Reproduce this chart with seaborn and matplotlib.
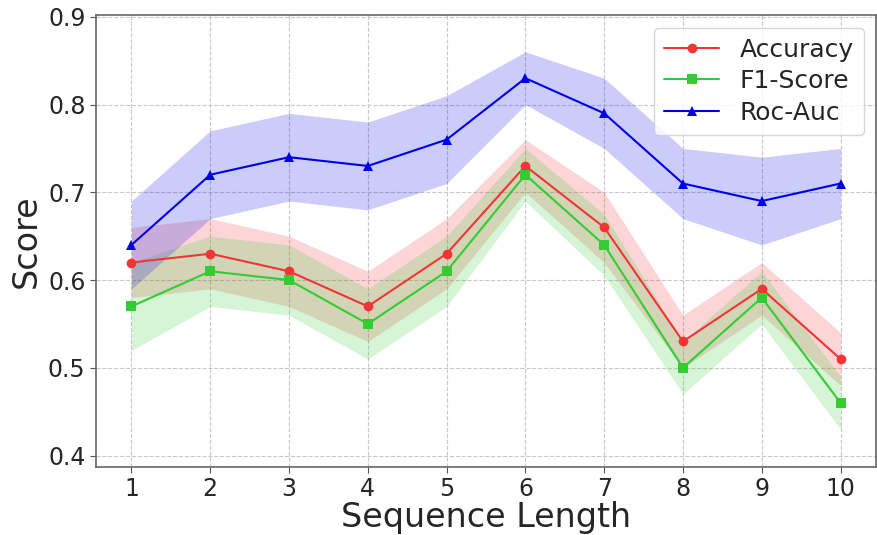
import numpy as np
import pandas as pd
import matplotlib
matplotlib.use("Agg")
import matplotlib.pyplot as plt
import seaborn as sns

seq_len = [1, 2, 3, 4, 5, 6, 7, 8, 9, 10]
accuracy = [0.62, 0.63, 0.61, 0.57, 0.63, 0.73, 0.66, 0.53, 0.59, 0.51]
acc_std = [0.04, 0.04, 0.04, 0.04, 0.04, 0.03, 0.04, 0.03, 0.03, 0.03]
f1_score = [0.57, 0.61, 0.60, 0.55, 0.61, 0.72, 0.64, 0.50, 0.58, 0.46]
f1_std = [0.05, 0.04, 0.04, 0.04, 0.04, 0.03, 0.035, 0.03, 0.03, 0.03]
roc_auc = [0.64, 0.72, 0.74, 0.73, 0.76, 0.83, 0.79, 0.71, 0.69, 0.71]
roc_std = [0.05, 0.05, 0.05, 0.05, 0.05, 0.03, 0.04, 0.04, 0.05, 0.04]

df = pd.DataFrame({
    "Sequence Length": seq_len * 3,
    "Score": accuracy + f1_score + roc_auc,
    "Metric": ["Accuracy"] * 10 + ["F1-Score"] * 10 + ["Roc-Auc"] * 10,
})

colors = {"Accuracy": "#f03535", "F1-Score": "#33cc33", "Roc-Auc": "#0000e6"}
markers = {"Accuracy": "o", "F1-Score": "s", "Roc-Auc": "^"}

sns.set_style("white")
fig = plt.figure(figsize=(8.77, 5.35), dpi=100)
ax = fig.add_axes([96 / 877, 1 - 467 / 535, 780 / 877, 452 / 535])

x = np.array(seq_len)
bands = [(accuracy, acc_std, "Accuracy"), (f1_score, f1_std, "F1-Score"), (roc_auc, roc_std, "Roc-Auc")]
for vals, std, name in bands:
    v = np.array(vals)
    s = np.array(std)
    ax.fill_between(x, v - s, v + s, color=colors[name], alpha=0.2, linewidth=0)

sns.lineplot(data=df, x="Sequence Length", y="Score", hue="Metric", style="Metric",
             palette=colors, markers=markers, dashes=False, markersize=7,
             markeredgewidth=0, linewidth=1.5, ax=ax)

ax.set_xticks(seq_len)
ax.set_yticks([0.4, 0.5, 0.6, 0.7, 0.8, 0.9])
ax.set_xlim(0.55, 10.45)
ax.set_ylim(0.387, 0.902)
ax.tick_params(axis="both", labelsize=17, length=4, color="#555555")
ax.tick_params(axis="both", which="both", left=True, bottom=True)
ax.set_xlabel("Sequence Length", fontsize=24, labelpad=0)
ax.set_ylabel("Score", fontsize=24, labelpad=4)
ax.grid(True, linestyle="--", color="#c8c8c8", linewidth=0.8)
for sp in ax.spines.values():
    sp.set_color("#666666")
    sp.set_linewidth(1.2)

ax.legend(loc="upper right", fontsize=18, handlelength=2.2, borderpad=0.4,
          labelspacing=0.3, title=None)

fig.savefig("out.png", dpi=100)
